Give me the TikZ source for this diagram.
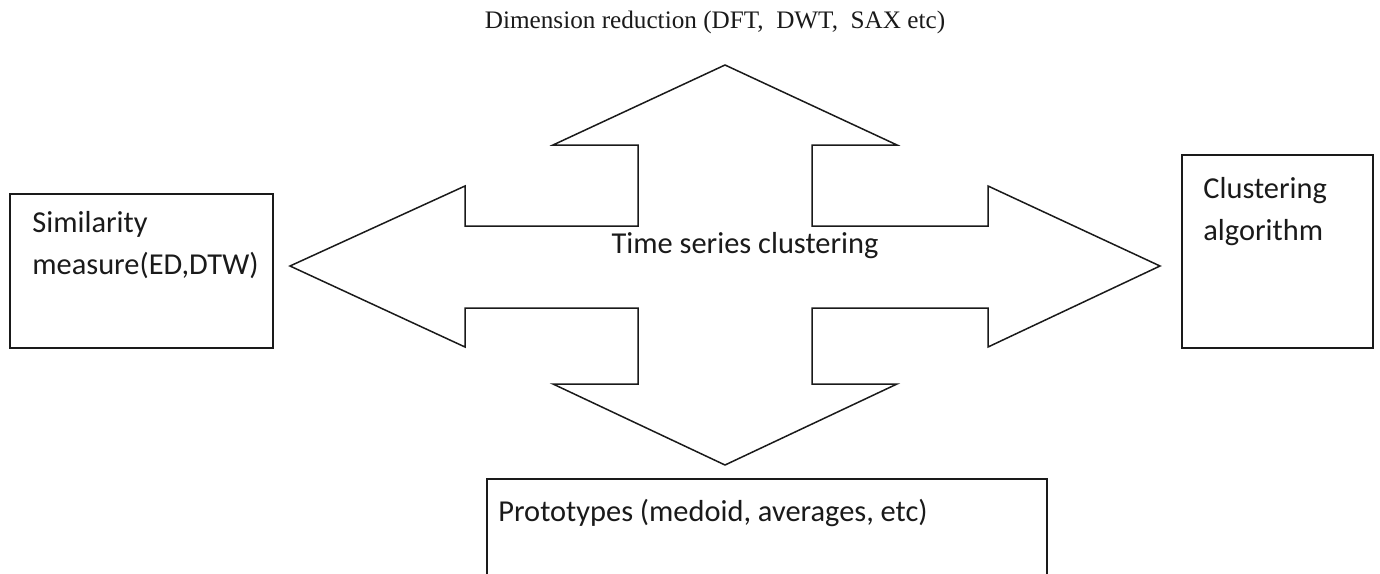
\documentclass[tikz,border=0pt]{standalone}
\usepackage{fontspec}
\usepackage{tikz}
\usetikzlibrary{positioning, calc}
\setmainfont{Carlito}
\newfontfamily\tsserif{Liberation Serif}
\definecolor{tsline}{HTML}{1A1A1A}
\tikzset{
  tsbox/.style={draw=tsline, line width=0.75pt, inner sep=0pt},
  tstext/.style={font=\fontsize{15.2}{21}\selectfont, inner sep=0pt, align=left, text=tsline},
  tstitle/.style={font=\tsserif\fontsize{12.6}{15}\selectfont, inner sep=0pt, text=tsline},
  tscross/.style={draw=tsline, line width=0.75pt, line join=miter},
}

\begin{document}
\begin{tikzpicture}[x=0.5pt, y=-0.5pt]
    \useasboundingbox (0,0) rectangle (1380,573);
    \clip (0,0) rectangle (1380,573);
    % four-way arrow round the centre
    \draw[tscross] (725,65) -- (897,145) -- (812,145) -- (812,226) -- (988,226) -- (988,186)
      -- (1160,266) -- (988,347) -- (988,308) -- (812,308) -- (812,384) -- (897,384)
      -- (725,465) -- (553,384) -- (638,384) -- (638,308) -- (465,308) -- (465,347)
      -- (290,266) -- (465,186) -- (465,226) -- (638,226) -- (638,145) -- (553,145) -- cycle;
    \node[tstext] (core) at (745,246) {Time series clustering};
    \node[tstitle] (dimred) at (715,22) {Dimension reduction (DFT,\ \ DWT,\ \ SAX etc)};
    % boxes
    \node[tsbox, minimum width=131.5pt, minimum height=77pt] (sim) at (141.5,271) {};
    \node[tsbox, minimum width=95.5pt, minimum height=96.5pt] (algo) at (1277.5,251.5) {};
    \node[tsbox, minimum width=280pt, minimum height=61pt] (proto) at (767,540) {};
    \node[tstext, anchor=north west] (simtxt) at (32,211) {Similarity\\measure(ED,DTW)};
    \node[tstext, anchor=north west] (algotxt) at (1203,177) {Clustering\\algorithm};
    \node[tstext, anchor=north west] (prototxt) at (498,499) {Prototypes (medoid, averages, etc)};
  \end{tikzpicture}
\end{document}
